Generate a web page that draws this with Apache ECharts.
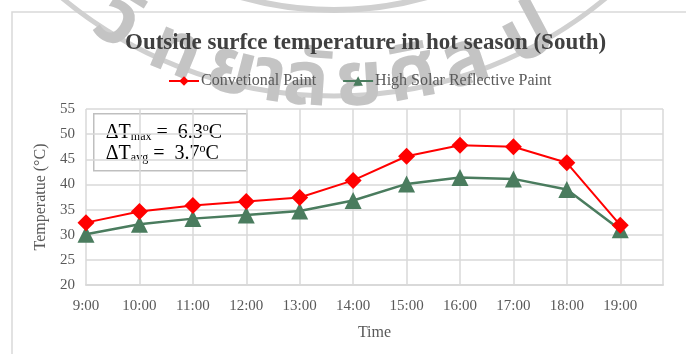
<!DOCTYPE html>
<html>
<head>
<meta charset="utf-8">
<script src="https://cdn.jsdelivr.net/npm/echarts@6/dist/echarts.min.js"></script>
<style>
  html, body { margin: 0; padding: 0; background: #ffffff; }
  #chart { width: 686px; height: 354px; }
</style>
</head>
<body>
<div id="chart"></div>
<script>
// Hourly outside surface temperature, hot season, south wall
const times = ['9:00', '10:00', '11:00', '12:00', '13:00', '14:00', '15:00', '16:00', '17:00', '18:00', '19:00'];
const conventional = [32.4, 34.6, 35.8, 36.6, 37.4, 40.8, 45.6, 47.8, 47.5, 44.3, 31.9];
const reflective   = [30.1, 32.1, 33.2, 33.9, 34.7, 36.8, 40.1, 41.4, 41.1, 39.0, 31.0];
const yTicks = [20, 25, 30, 35, 40, 45, 50, 55];
const deltaMax = '6.3';
const deltaAvg = '3.7';

const serif = '"Liberation Serif", "DejaVu Serif", serif';
const axisGrey = '#d9d9d9';
const textGrey = '#595959';

const chart = echarts.init(document.getElementById('chart'), null, { renderer: 'canvas' });

// Seal watermark: two concentric arcs with Thai lettering set along the ring
const sealCx = 334, sealCy = -330;
const sealLetters = ['วิ', 'ท', 'ย', 'า', 'ลั', 'ย', 'ศิ', 'ล', 'ป'];
const letterAngles = [-31.6, -22.5, -14.3, -8.9, -3.9, 3.5, 10.9, 18.5, 28];
const sealGraphics = [
  { type: 'circle', shape: { cx: sealCx, cy: sealCy, r: 426 }, style: { fill: null, stroke: '#d0d0d0', lineWidth: 5 }, z: -10, silent: true },
  { type: 'circle', shape: { cx: sealCx, cy: sealCy, r: 340 }, style: { fill: null, stroke: '#d0d0d0', lineWidth: 6 }, z: -10, silent: true }
];
sealLetters.forEach((ch, i) => {
  const a = letterAngles[i] * Math.PI / 180;
  const r = 420;
  sealGraphics.push({
    type: 'text',
    x: sealCx + r * Math.sin(a),
    y: sealCy + r * Math.cos(a),
    rotation: a,
    style: {
      text: ch, fill: '#c4c4c4',
      font: 'bold 76px "Noto Sans Thai", "Noto Sans", "DejaVu Sans", sans-serif',
      align: 'center', verticalAlign: 'middle'
    },
    z: -10, silent: true
  });
});

const option = {
  backgroundColor: '#ffffff',
  animation: false,
  title: {
    text: 'Outside surfce temperature in hot season (South)',
    left: 120,
    top: 27,
    textStyle: { fontFamily: serif, fontSize: 23, fontWeight: 'bold', color: '#404040' }
  },
  legend: {
    top: 68,
    left: 163,
    itemGap: 26,
    itemWidth: 30,
    itemHeight: 12,
    textStyle: { fontFamily: serif, fontSize: 16, color: textGrey, padding: [0, 0, 0, -3] },
    data: ['Convetional Paint', 'High Solar Reflective Paint']
  },
  grid: { left: 86, right: 23, top: 109, bottom: 69 },
  xAxis: {
    type: 'value',
    min: 0,
    max: 10.8,
    interval: 1,
    name: 'Time',
    nameLocation: 'middle',
    nameGap: 40,
    nameTextStyle: { fontFamily: serif, fontSize: 16, color: textGrey },
    axisLine: { show: true, lineStyle: { color: axisGrey, width: 2 } },
    axisTick: { show: false },
    axisLabel: {
      margin: 14,
      fontFamily: serif, fontSize: 15, color: textGrey,
      showMaxLabel: false,
      formatter: v => (Number.isInteger(v) && times[v] !== undefined) ? times[v] : ''
    },
    splitLine: { show: true, lineStyle: { color: axisGrey, width: 1.5 } }
  },
  yAxis: {
    type: 'value',
    min: yTicks[0],
    max: yTicks[yTicks.length - 1],
    interval: 5,
    name: 'Temperatue (°C)',
    nameLocation: 'middle',
    nameGap: 34,
    nameTextStyle: { fontFamily: serif, fontSize: 16, color: textGrey },
    axisLine: { show: false },
    axisTick: { show: false },
    axisLabel: { margin: 11, fontFamily: serif, fontSize: 15, color: textGrey },
    splitLine: { show: true, lineStyle: { color: axisGrey, width: 1.5 } }
  },
  series: [
    {
      name: 'Convetional Paint',
      type: 'line',
      data: conventional.map((v, i) => [i, v]),
      symbol: 'diamond',
      symbolSize: 17,
      lineStyle: { color: '#ff0000', width: 2 },
      itemStyle: { color: '#ff0000' },
      z: 3
    },
    {
      name: 'High Solar Reflective Paint',
      type: 'line',
      data: reflective.map((v, i) => [i, v]),
      symbol: 'triangle',
      symbolSize: 17,
      lineStyle: { color: '#4a7c5e', width: 2.5 },
      itemStyle: { color: '#4a7c5e' },
      z: 2
    }
  ],
  graphic: [
    // outer frame of the chart area
    { type: 'rect', shape: { x: 12, y: 12, width: 700, height: 400 }, style: { fill: null, stroke: '#d9d9d9', lineWidth: 1.5 }, z: -20, silent: true },
    ...sealGraphics,
    // temperature-difference callout
    {
      type: 'group',
      left: 93,
      top: 113,
      z: 20,
      children: [
        { type: 'rect', shape: { x: 0, y: 0, width: 153, height: 57 }, style: { fill: '#ffffff', stroke: '#bfbfbf', lineWidth: 1.5 } },
        {
          type: 'text',
          x: 12, y: 8,
          style: {
            text: '{a|ΔT}{s|max}{a| =  ' + deltaMax + '}{p|o}{a|C}\n{a|ΔT}{s|avg}{a| =  ' + deltaAvg + '}{p|o}{a|C}',
            rich: {
              a: { fontFamily: serif, fontSize: 20, color: '#262626', lineHeight: 21, verticalAlign: 'middle' },
              s: { fontFamily: serif, fontSize: 12, color: '#262626', lineHeight: 21, verticalAlign: 'bottom', padding: [8, 0, 0, 0] },
              p: { fontFamily: serif, fontSize: 12, color: '#262626', lineHeight: 21, verticalAlign: 'top', padding: [0, 0, 6, 0] }
            }
          }
        }
      ]
    }
  ]
};

chart.setOption(option);
</script>
</body>
</html>
